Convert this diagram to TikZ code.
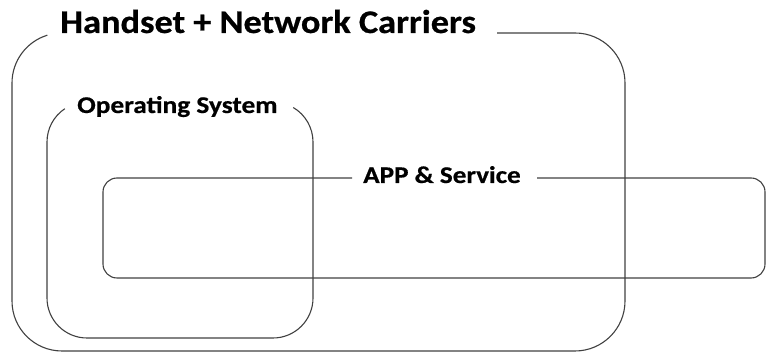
\documentclass[tikz,border=0pt]{standalone}
\usepackage{fontspec}
\setmainfont{Carlito}[BoldFeatures={FakeBold=0.6}]
\begin{document}
\begin{tikzpicture}[x=1pt,y=1pt,
  frame/.style={draw=black!75,line width=1.1pt},
  title/.style={inner sep=0pt,anchor=base west,font=\bfseries}]
\useasboundingbox (0,0) rectangle (766,353);

% group titles
\node[title,font=\fontsize{33}{36}\bfseries\selectfont,xscale=1.1] (hn) at (60,320) {Handset + Network Carriers};
\node[title,font=\fontsize{24}{28}\bfseries\selectfont,xscale=1.14] (os) at (77,240) {Operating System};
\node[title,font=\fontsize{24}{28}\bfseries\selectfont,xscale=1.13] (app) at (363,170) {APP \& Service};

% handset + network carriers frame
\draw[frame] (497,320) -- (575,320) arc[start angle=90,end angle=0,radius=50]
  -- (625,52) arc[start angle=0,end angle=-90,radius=50]
  -- (62,2) arc[start angle=270,end angle=180,radius=50]
  -- (12,270) arc[start angle=180,end angle=107,radius=50];

% operating system frame
\draw[frame] ([shift={(59.5:40)}]273,211) arc[start angle=59.5,end angle=0,radius=40]
  -- (313,55) arc[start angle=0,end angle=-90,radius=40]
  -- (87,15) arc[start angle=270,end angle=180,radius=40]
  -- (47,211) arc[start angle=180,end angle=123.7,radius=40];

% app & service frame
\draw[frame] (537,175) -- (751,175) arc[start angle=90,end angle=0,radius=14]
  -- (765,89) arc[start angle=0,end angle=-90,radius=14]
  -- (117,75) arc[start angle=270,end angle=180,radius=14]
  -- (103,161) arc[start angle=180,end angle=90,radius=14] -- (352,175);
\end{tikzpicture}
\end{document}
